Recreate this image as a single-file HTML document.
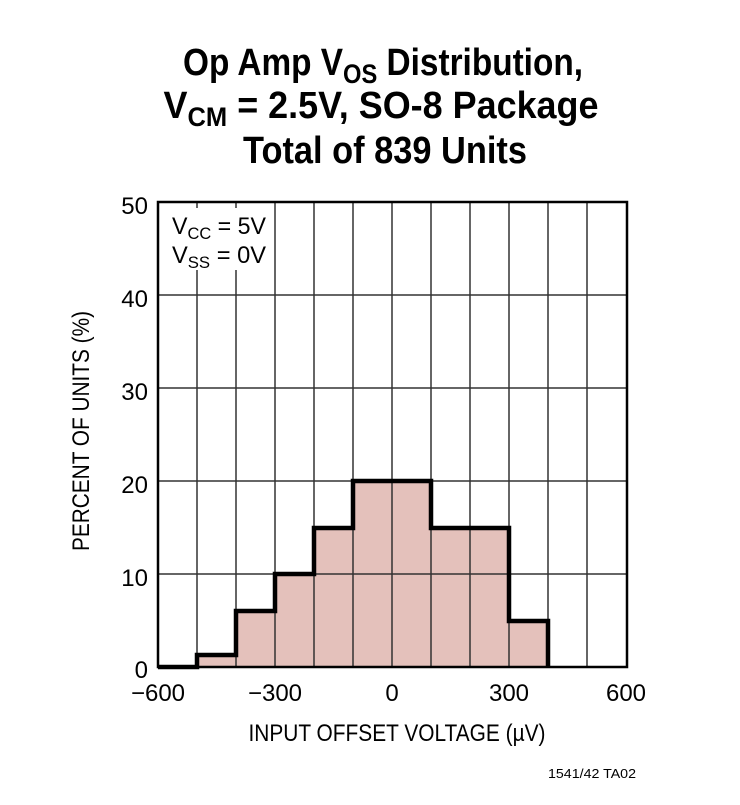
<!DOCTYPE html>
<html><head><meta charset="utf-8"><style>
html,body{margin:0;padding:0;background:#fff}
svg{display:block}
text{font-family:"Liberation Sans Narrow","Liberation Sans",sans-serif;fill:#000}
</style></head><body>
<svg width="740" height="805" viewBox="0 0 740 805" xmlns="http://www.w3.org/2000/svg">
<g font-weight="bold" font-size="38" text-anchor="middle">
<text x="383" y="75" textLength="400" lengthAdjust="spacingAndGlyphs">Op Amp V<tspan font-size="27" dy="8">OS</tspan><tspan dy="-8"> Distribution,</tspan></text>
<text x="381" y="118" textLength="435" lengthAdjust="spacingAndGlyphs">V<tspan font-size="27" dy="8">CM</tspan><tspan dy="-8"> = 2.5V, SO-8 Package</tspan></text>
<text x="385" y="163" textLength="284" lengthAdjust="spacingAndGlyphs">Total of 839 Units</text>
</g>
<path d="M158,667 L197,667 L197,655 L236,655 L236,611 L275,611 L275,574 L314,574 L314,528 L353,528 L353,481 L431,481 L431,528 L509,528 L509,621 L548,621 L548,667 Z" fill="#e4c1bb"/>
<g stroke="#333" stroke-width="1.5">
<line x1="197" y1="202" x2="197" y2="667"/><line x1="236" y1="202" x2="236" y2="667"/>
<line x1="275" y1="202" x2="275" y2="667"/><line x1="314" y1="202" x2="314" y2="667"/>
<line x1="353" y1="202" x2="353" y2="667"/><line x1="392" y1="202" x2="392" y2="667"/>
<line x1="431" y1="202" x2="431" y2="667"/><line x1="470" y1="202" x2="470" y2="667"/>
<line x1="509" y1="202" x2="509" y2="667"/><line x1="548" y1="202" x2="548" y2="667"/>
<line x1="587" y1="202" x2="587" y2="667"/>
<line x1="158" y1="295" x2="627" y2="295"/><line x1="158" y1="388" x2="627" y2="388"/>
<line x1="158" y1="481" x2="627" y2="481"/><line x1="158" y1="574" x2="627" y2="574"/>
</g>
<rect x="168" y="208" width="102" height="62" fill="#fff"/>
<rect x="158" y="202" width="469" height="465" fill="none" stroke="#000" stroke-width="2.5"/>
<path d="M158,667 L197,667 L197,655 L236,655 L236,611 L275,611 L275,574 L314,574 L314,528 L353,528 L353,481 L431,481 L431,528 L509,528 L509,621 L548,621 L548,667" fill="none" stroke="#000" stroke-width="4.5"/>
<g font-size="24">
<text x="172" y="234" textLength="94" lengthAdjust="spacingAndGlyphs">V<tspan font-size="17" dy="5">CC</tspan><tspan dy="-5"> = 5V</tspan></text>
<text x="172" y="263" textLength="94" lengthAdjust="spacingAndGlyphs">V<tspan font-size="17" dy="5">SS</tspan><tspan dy="-5"> = 0V</tspan></text>
</g>
<g font-size="24" text-anchor="end">
<text x="148" y="214">50</text><text x="148" y="307">40</text><text x="148" y="400">30</text>
<text x="148" y="493">20</text><text x="148" y="586">10</text><text x="148" y="678">0</text>
</g>
<g font-size="24" text-anchor="middle">
<text x="158" y="701">−600</text><text x="275" y="701">−300</text><text x="392" y="701">0</text>
<text x="509" y="701">300</text><text x="626" y="701">600</text>
</g>
<text x="397" y="741" font-size="24" text-anchor="middle" textLength="297" lengthAdjust="spacingAndGlyphs">INPUT OFFSET VOLTAGE (µV)</text>
<text transform="translate(89,431) rotate(-90)" font-size="24" text-anchor="middle" textLength="240" lengthAdjust="spacingAndGlyphs">PERCENT OF UNITS (%)</text>
<text x="636" y="778" font-size="13" text-anchor="end" textLength="88" lengthAdjust="spacingAndGlyphs">1541/42 TA02</text>
</svg>
</body></html>
